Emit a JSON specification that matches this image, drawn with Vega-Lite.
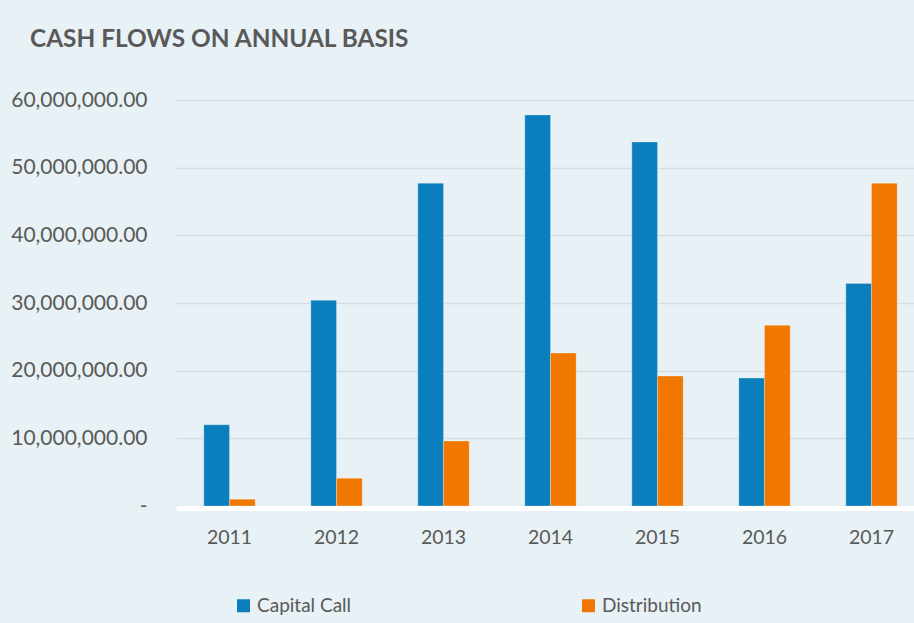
{
  "$schema": "https://vega.github.io/schema/vega-lite/v6.json",
  "autosize": "none",
  "width": 749,
  "height": 406,
  "padding": {"left": 176, "top": 100, "right": 0, "bottom": 117},
  "background": "#E8F1F5",
  "config": {"view": {"stroke": null}},
  "title": {
    "text": "CASH FLOWS ON ANNUAL BASIS",
    "anchor": "start",
    "frame": "group",
    "dx": -146,
    "offset": 37,
    "font": "Lato",
    "fontSize": 24.4,
    "fontWeight": "bold",
    "color": "#595959"
  },
  "data": {
    "values": [
      {"year": "2011", "type": "Capital Call", "amount": 12000000},
      {"year": "2011", "type": "Distribution", "amount": 1000000},
      {"year": "2012", "type": "Capital Call", "amount": 30400000},
      {"year": "2012", "type": "Distribution", "amount": 4100000},
      {"year": "2013", "type": "Capital Call", "amount": 47700000},
      {"year": "2013", "type": "Distribution", "amount": 9600000},
      {"year": "2014", "type": "Capital Call", "amount": 57800000},
      {"year": "2014", "type": "Distribution", "amount": 22600000},
      {"year": "2015", "type": "Capital Call", "amount": 53800000},
      {"year": "2015", "type": "Distribution", "amount": 19200000},
      {"year": "2016", "type": "Capital Call", "amount": 18900000},
      {"year": "2016", "type": "Distribution", "amount": 26700000},
      {"year": "2017", "type": "Capital Call", "amount": 32900000},
      {"year": "2017", "type": "Distribution", "amount": 47700000}
    ]
  },
  "mark": {"type": "bar", "stroke": "#ffffff", "strokeOpacity": 0.35, "strokeWidth": 0.8},
  "encoding": {
    "x": {
      "field": "year",
      "type": "nominal",
      "scale": {"paddingInner": 0.52, "paddingOuter": 0.26},
      "axis": {
        "title": null,
        "labelAngle": 0,
        "ticks": false,
        "domainColor": "#ffffff",
        "domainWidth": 5,
        "labelFont": "Lato",
        "labelFontSize": 19.5,
        "labelColor": "#595959",
        "labelPadding": 20,
        "offset": 2
      }
    },
    "xOffset": {"field": "type", "type": "nominal", "scale": {"paddingInner": 0, "paddingOuter": 0}},
    "y": {
      "field": "amount",
      "type": "quantitative",
      "scale": {"domain": [0, 60000000], "nice": false},
      "axis": {
        "title": null,
        "values": [0, 10000000, 20000000, 30000000, 40000000, 50000000, 60000000],
        "labelExpr": "datum.value == 0 ? '-' : format(datum.value, ',.2f')",
        "ticks": false,
        "domain": false,
        "gridColor": "#D4DEE3",
        "gridWidth": 1.5,
        "labelFont": "Lato",
        "labelFontSize": 21,
        "labelColor": "#595959",
        "labelPadding": 29
      }
    },
    "color": {
      "field": "type",
      "type": "nominal",
      "scale": {"domain": ["Capital Call", "Distribution"], "range": ["#0B7FBE", "#F07800"]},
      "legend": {
        "title": null,
        "orient": "none",
        "legendX": 58,
        "legendY": 496,
        "direction": "horizontal",
        "columns": 2,
        "columnPadding": 227,
        "symbolType": "square",
        "symbolSize": 169,
        "symbolStrokeWidth": 0,
        "labelFont": "Lato",
        "labelFontSize": 19,
        "labelColor": "#595959",
        "labelOffset": 4
      }
    }
  }
}
